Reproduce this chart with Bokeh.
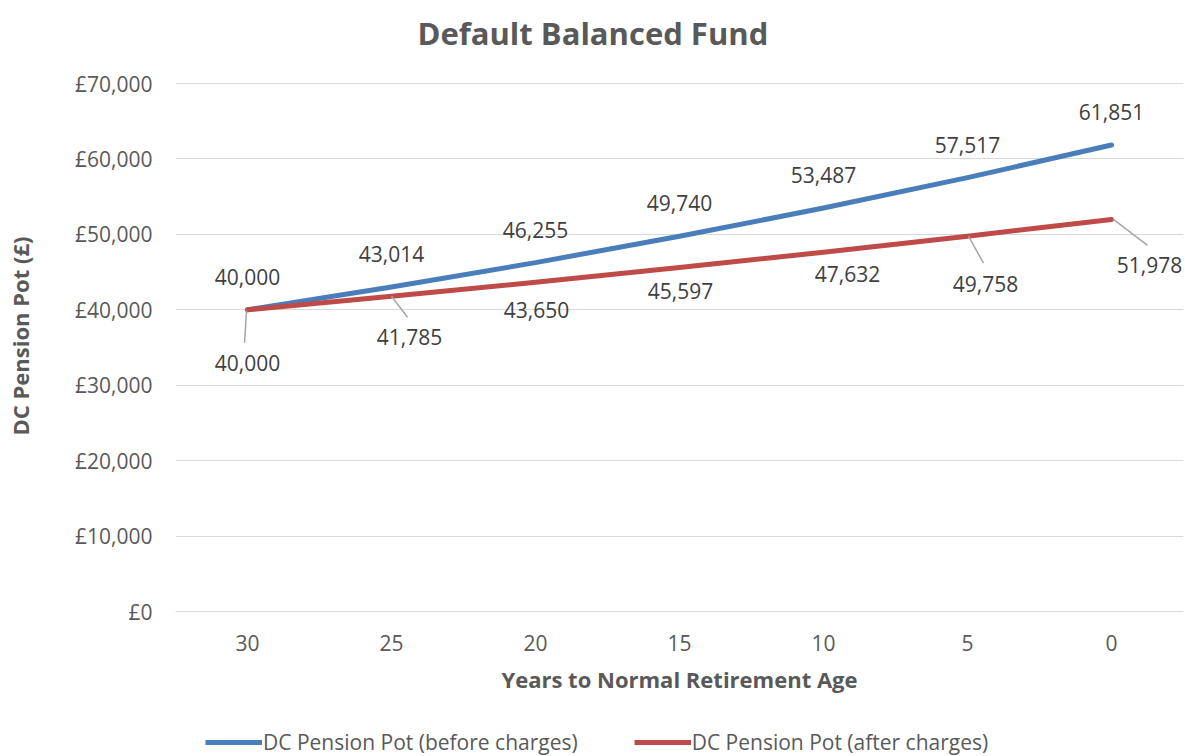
from bokeh.plotting import figure
from bokeh.layouts import column
from bokeh.models import ColumnDataSource, FixedTicker, Legend, LegendItem, Range1d
from bokeh.embed import file_html
from bokeh.resources import INLINE
from bokeh.core.properties import value

# ---------------- data ----------------
years = ["30", "25", "20", "15", "10", "5", "0"]
before_charges = [40000, 43014, 46255, 49740, 53487, 57517, 61851]
after_charges = [40000, 41785, 43650, 45597, 47632, 49758, 51978]
y_ticks = [0, 10000, 20000, 30000, 40000, 50000, 60000, 70000]
y_tick_labels = ["£0", "£10,000", "£20,000", "£30,000", "£40,000", "£50,000", "£60,000", "£70,000"]
series_names = ["DC Pension Pot (before charges)", "DC Pension Pot (after charges)"]

# label placement (pixels)
after_dx = [0, 18, 1, 1, 24, 18, 38]
after_dy = [53, 41, 28, 23, 22, 48, 46]
leader_idx = [0, 1, 5, 6]
leader_start = [(-1, 1), (0, 0), (1, 0), (2, 0)]
leader_end = [(-3, 33), (16, 21), (16, 27), (36, 26)]

FONT = "Open Sans"
BLUE = "#4A7EBB"
RED = "#BE4B48"
GREY_TXT = "#595959"
LABEL_TXT = "#404040"

W = 1185
H1, H2 = 720, 36
ML, MR, MT, MB = 175, 2, 60, 109
HEADROOM = 23          # px of empty frame above the top gridline
Y_TOP = y_ticks[-1]
frame_w = W - ML - MR
frame_h = H1 - MT - MB
xs = list(range(len(years)))
px_x = frame_w / len(years)
px_y = (frame_h - HEADROOM) / Y_TOP
y_end = Y_TOP + HEADROOM / px_y

p = figure(width=W, height=H1, output_backend="svg", toolbar_location=None,
           x_range=Range1d(-0.5, len(years) - 0.5), y_range=Range1d(0, y_end),
           min_border_left=ML, min_border_right=MR, min_border_top=MT, min_border_bottom=MB)
p.outline_line_color = None
p.background_fill_color = "white"
p.border_fill_color = "white"

# title
p.title.text = "Default Balanced Fund"
p.title.text_font = FONT
p.title.text_font_size = "31px"
p.title.text_font_style = "bold"
p.title.text_color = GREY_TXT
p.title.align = "left"
p.title.offset = 242
p.title.standoff = 14

# grid
p.xgrid.grid_line_color = None
p.ygrid.grid_line_color = "#D9D9D9"
p.ygrid.grid_line_width = 1
p.ygrid.ticker = FixedTicker(ticks=y_ticks)

# axes
p.xaxis.ticker = FixedTicker(ticks=xs)
p.xaxis.major_label_overrides = {i: y for i, y in enumerate(years)}
p.xaxis.axis_line_color = "#D9D9D9"
p.xaxis.major_tick_line_color = None
p.xaxis.minor_tick_line_color = None
p.xaxis.major_label_text_font = FONT
p.xaxis.major_label_text_font_size = "21px"
p.xaxis.major_label_text_color = GREY_TXT
p.xaxis.major_label_standoff = 17
p.xaxis.axis_label = "Years to Normal Retirement Age"
p.xaxis.axis_label_text_font = FONT
p.xaxis.axis_label_text_font_size = "22px"
p.xaxis.axis_label_text_font_style = "bold"
p.xaxis.axis_label_text_color = GREY_TXT
p.xaxis.axis_label_standoff = 10

p.yaxis.ticker = FixedTicker(ticks=y_ticks)
p.yaxis.major_label_overrides = {t: l for t, l in zip(y_ticks, y_tick_labels)}
p.yaxis.axis_line_color = None
p.yaxis.major_tick_line_color = None
p.yaxis.minor_tick_line_color = None
p.yaxis.major_label_text_font = FONT
p.yaxis.major_label_text_font_size = "21px"
p.yaxis.major_label_text_color = GREY_TXT
p.yaxis.major_label_standoff = 17
p.yaxis.axis_label = "DC Pension Pot (£)"
p.yaxis.axis_label_text_font = FONT
p.yaxis.axis_label_text_font_size = "22px"
p.yaxis.axis_label_text_font_style = "bold"
p.yaxis.axis_label_text_color = GREY_TXT
p.yaxis.axis_label_standoff = 37

# lines
src_b = ColumnDataSource(dict(x=xs, y=before_charges, t=[f"{v:,}" for v in before_charges]))
src_a = ColumnDataSource(dict(x=xs, y=after_charges, t=[f"{v:,}" for v in after_charges],
                              dx=after_dx, dy=after_dy))
p.line("x", "y", source=src_b, line_color=BLUE, line_width=5, line_cap="round", line_join="round")
p.line("x", "y", source=src_a, line_color=RED, line_width=5, line_cap="round", line_join="round")

# leader lines
lx0 = [leader_idx[i] + leader_start[i][0] / px_x for i in range(len(leader_idx))]
ly0 = [after_charges[leader_idx[i]] - leader_start[i][1] / px_y for i in range(len(leader_idx))]
lx1 = [leader_idx[i] + leader_end[i][0] / px_x for i in range(len(leader_idx))]
ly1 = [after_charges[leader_idx[i]] - leader_end[i][1] / px_y for i in range(len(leader_idx))]
p.segment(lx0, ly0, lx1, ly1, line_color="#A6A6A6", line_width=1.5)

# data labels
p.text("x", "y", text="t", source=src_b, y_offset=-33, text_align="center", text_baseline="middle",
       text_font=value(FONT), text_font_size="21px", text_color=LABEL_TXT)
p.text("x", "y", text="t", source=src_a, x_offset="dx", y_offset="dy", text_align="center",
       text_baseline="middle", text_font=value(FONT), text_font_size="21px", text_color=LABEL_TXT)

# legend strip
q = figure(width=W, height=H2, output_backend="svg", toolbar_location=None,
           x_range=Range1d(0, 1), y_range=Range1d(0, 1), x_axis_type=None, y_axis_type=None,
           min_border_left=0, min_border_right=0, min_border_top=0, min_border_bottom=0)
q.outline_line_color = None
q.xgrid.grid_line_color = None
q.ygrid.grid_line_color = None
q.border_fill_color = "white"
lb = q.line([5, 6], [5, 6], line_color=BLUE, line_width=5)
la = q.line([5, 6], [5, 6], line_color=RED, line_width=5)
legend = Legend(items=[LegendItem(label=series_names[0], renderers=[lb]),
                       LegendItem(label=series_names[1], renderers=[la])],
                orientation="horizontal", location=(30, 0),
                label_text_font=FONT, label_text_font_size="21px", label_text_color=GREY_TXT,
                glyph_width=57, label_standoff=1, spacing=56, border_line_color=None,
                background_fill_alpha=0, padding=0, margin=0)
q.add_layout(legend, "center")

open("out.html", "w").write(file_html(column(p, q, spacing=0), INLINE))
